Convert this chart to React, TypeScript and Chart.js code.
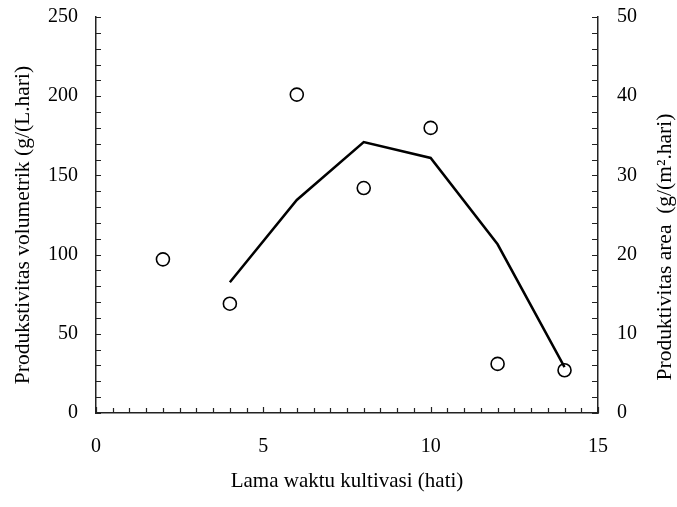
import React, { useEffect, useRef } from "react";
import { Chart, registerables } from "chart.js";

Chart.register(...registerables);

const days = [2, 4, 6, 8, 10, 12, 14];
const volumetric = [97, 69, 201, 142, 180, 31, 27];
const areaDays = [4, 6, 8, 10, 12, 14];
const areaProd = [16.5, 26.9, 34.2, 32.2, 21.3, 5.8];

const xTitle = "Lama waktu kultivasi (hati)";
const yLeftTitle = "Produkstivitas volumetrik (g/(L.hari)";
const yRightTitle = "Produktivitas area  (g/(m².hari)";

const FONT = "'Liberation Serif', 'Times New Roman', serif";

const innerTicks = {
  id: "innerTicks",
  afterDraw(chart: any) {
    const { ctx, chartArea } = chart;
    const x = chart.scales.x;
    const y = chart.scales.y;
    const y1 = chart.scales.y1;
    ctx.save();
    ctx.strokeStyle = "#222";
    ctx.lineWidth = 1.2;
    ctx.beginPath();
    for (let v = 0; v <= 15 + 1e-9; v += 0.5) {
      const px = Math.round(x.getPixelForValue(v)) + 0.5;
      const len = Math.abs(v % 5) < 1e-9 ? 6 : 5;
      ctx.moveTo(px, chartArea.bottom);
      ctx.lineTo(px, chartArea.bottom - len);
    }
    for (let v = 0; v <= 250 + 1e-9; v += 10) {
      const py = Math.round(y.getPixelForValue(v)) + 0.5;
      ctx.moveTo(chartArea.left, py);
      ctx.lineTo(chartArea.left + 5, py);
    }
    for (let v = 0; v <= 50 + 1e-9; v += 2) {
      const py = Math.round(y1.getPixelForValue(v)) + 0.5;
      ctx.moveTo(chartArea.right, py);
      ctx.lineTo(chartArea.right - 6, py);
    }
    ctx.stroke();

    // vertical axis titles, both reading bottom-to-top
    ctx.fillStyle = "#000";
    ctx.font = "21.5px " + FONT;
    ctx.textAlign = "center";
    ctx.textBaseline = "middle";
    ctx.save();
    ctx.translate(23, 225);
    ctx.rotate(-Math.PI / 2);
    ctx.fillText(yLeftTitle, 0, 0);
    ctx.restore();
    ctx.save();
    ctx.translate(665, 247);
    ctx.rotate(-Math.PI / 2);
    ctx.fillText(yRightTitle, 0, 0);
    ctx.restore();
    ctx.restore();
  },
};

export default function App() {
  const ref = useRef<HTMLCanvasElement | null>(null);
  useEffect(() => {
    if (!ref.current) return;
    const tickFont = { family: FONT, size: 20 };
    const titleFont = { family: FONT, size: 21 };
    const chart = new Chart(ref.current, {
      type: "scatter",
      data: {
        datasets: [
          {
            label: "Produktivitas area",
            data: areaDays.map((d, i) => ({ x: d, y: areaProd[i] })),
            yAxisID: "y1",
            showLine: true,
            borderColor: "#000",
            borderWidth: 2.5,
            pointRadius: 0,
            pointHoverRadius: 0,
            fill: false,
            tension: 0,
          },
          {
            label: "Produktivitas volumetrik",
            data: days.map((d, i) => ({ x: d, y: volumetric[i] })),
            yAxisID: "y",
            showLine: false,
            pointRadius: 6.5,
            pointBorderWidth: 1.6,
            pointBackgroundColor: "#fff",
            pointBorderColor: "#000",
          },
        ],
      },
      options: {
        animation: false,
        responsive: false,
        maintainAspectRatio: false,
        layout: { padding: { top: 17, left: 0, right: 0, bottom: 0 } },
        plugins: { legend: { display: false }, tooltip: { enabled: false } },
        scales: {
          x: {
            type: "linear",
            min: 0,
            max: 15,
            ticks: { stepSize: 5, font: tickFont, color: "#000", padding: 22, maxRotation: 0 },
            grid: { display: false, drawTicks: false },
            border: { display: true, color: "#222", width: 1.5 },
            title: { display: true, text: xTitle, font: titleFont, color: "#000", padding: { top: 0, bottom: 13 } },
            afterFit(s: any) { s.height = 94; s.paddingLeft = 0; s.paddingRight = 0; },
          },
          y: {
            type: "linear",
            position: "left",
            min: 0,
            max: 250,
            ticks: { stepSize: 50, font: tickFont, color: "#000", padding: 18 },
            grid: { display: false, drawTicks: false },
            border: { display: true, color: "#222", width: 1.5 },
            title: { display: false, text: yLeftTitle },
            afterFit(s: any) { s.width = 96; s.paddingTop = 0; s.paddingBottom = 0; },
          },
          y1: {
            type: "linear",
            position: "right",
            min: 0,
            max: 50,
            ticks: { stepSize: 10, font: tickFont, color: "#000", padding: 19 },
            grid: { display: false, drawTicks: false },
            border: { display: true, color: "#222", width: 1.5 },
            title: { display: false, text: yRightTitle },
            afterFit(s: any) { s.width = 79; s.paddingTop = 0; s.paddingBottom = 0; },
          },
        },
      },
      plugins: [innerTicks],
    } as any);
    return () => chart.destroy();
  }, []);
  return (
    <div style={{ position: "fixed", left: 0, top: 0, width: 677, height: 507, background: "#fff" }}>
      <canvas ref={ref} width={677} height={507} style={{ display: "block", width: 677, height: 507 }} />
    </div>
  );
}
